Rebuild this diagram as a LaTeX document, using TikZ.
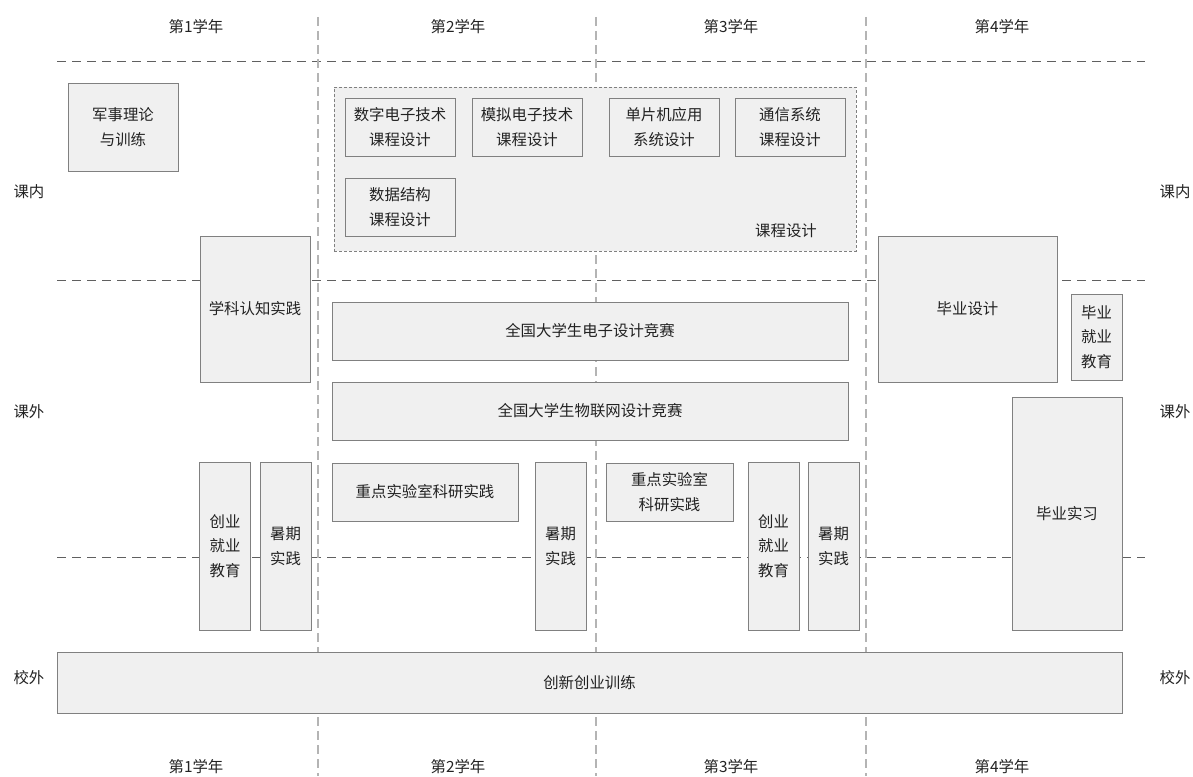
\documentclass[tikz,border=0pt]{standalone}
\usepackage{fontspec}
\setmainfont{Noto Sans CJK SC}
\definecolor{boxfill}{HTML}{F0F0F0}
\definecolor{boxline}{HTML}{808080}
\definecolor{hline}{HTML}{606060}
\definecolor{vline}{HTML}{B4B4B4}
\definecolor{txt}{HTML}{222222}
\tikzset{
  box/.style={draw=boxline, line width=0.9pt, fill=boxfill, inner sep=0pt, align=center, text=txt},
  groupbox/.style={draw=boxline, line width=0.8pt, fill=boxfill, dash pattern=on 3pt off 2pt, inner sep=0pt},
  hdash/.style={draw=hline, line width=0.9pt, dash pattern=on 9pt off 6pt},
  vdash/.style={draw=vline, line width=1.1pt, dash pattern=on 9pt off 5pt},
  lbl/.style={text=txt, inner sep=0pt},
}
\begin{document}
\begin{tikzpicture}[x=1pt, y=-1pt, font=\fontsize{15.4}{24.5}\selectfont]
\useasboundingbox (0,0) rectangle (1193,776);
% guide lines
\draw[hdash] (57,61) -- (1145,61);
\draw[hdash] (57,280) -- (1145,280);
\draw[hdash] (57,557) -- (1145,557);
\draw[vdash] (318,17) -- (318,776);
\draw[vdash] (596,17) -- (596,776);
\draw[vdash] (866,17) -- (866,776);
% year labels
\node[lbl] (t1) at (196,27) {第1学年};
\node[lbl] (t2) at (458,27) {第2学年};
\node[lbl] (t3) at (731,27) {第3学年};
\node[lbl] (t4) at (1002,27) {第4学年};
\node[lbl] (b1) at (196,767) {第1学年};
\node[lbl] (b2) at (458,767) {第2学年};
\node[lbl] (b3) at (731,767) {第3学年};
\node[lbl] (b4) at (1002,767) {第4学年};
% side labels
\node[lbl] (l1) at (29,192) {课内};
\node[lbl] (l2) at (29,412) {课外};
\node[lbl] (l3) at (29,678) {校外};
\node[lbl] (r1) at (1175,192) {课内};
\node[lbl] (r2) at (1175,412) {课外};
\node[lbl] (r3) at (1175,678) {校外};
% course design group
\node[groupbox, minimum width=522pt, minimum height=164pt] (grp) at (595,169) {};
\node[lbl] (grplbl) at (786,231) {课程设计};
\node[box, minimum width=110pt, minimum height=58pt] (szdz) at (400,127) {数字电子技术\\课程设计};
\node[box, minimum width=110pt, minimum height=58pt] (mndz) at (527,127) {模拟电子技术\\课程设计};
\node[box, minimum width=110pt, minimum height=58pt] (dpj) at (664,127) {单片机应用\\系统设计};
\node[box, minimum width=110pt, minimum height=58pt] (txxt) at (790,127) {通信系统\\课程设计};
\node[box, minimum width=110pt, minimum height=58pt] (sjjg) at (400,207) {数据结构\\课程设计};
% year 1
\node[box, minimum width=110pt, minimum height=88pt] (jsll) at (123,127) {军事理论\\与训练};
\node[box, minimum width=110pt, minimum height=146pt] (xkrz) at (255,309) {学科认知实践};
\node[box, minimum width=51pt, minimum height=168pt] (cy1) at (225,546) {创业\\就业\\教育};
\node[box, minimum width=51pt, minimum height=168pt] (sq1) at (285.5,546) {暑期\\实践};
% competitions
\node[box, minimum width=516pt, minimum height=58pt] (dzjs) at (590,331) {全国大学生电子设计竞赛};
\node[box, minimum width=516pt, minimum height=58pt] (wlw) at (590,411) {全国大学生物联网设计竞赛};
% year 2/3
\node[box, minimum width=186pt, minimum height=58pt] (zd2) at (425,492) {重点实验室科研实践};
\node[box, minimum width=51pt, minimum height=168pt] (sq2) at (560.5,546) {暑期\\实践};
\node[box, minimum width=127pt, minimum height=58pt] (zd3) at (669.5,492) {重点实验室\\科研实践};
\node[box, minimum width=51pt, minimum height=168pt] (cy3) at (773.5,546) {创业\\就业\\教育};
\node[box, minimum width=51pt, minimum height=168pt] (sq3) at (833.5,546) {暑期\\实践};
% year 4
\node[box, minimum width=179pt, minimum height=146pt] (bysj) at (967.5,309) {毕业设计};
\node[box, minimum width=51pt, minimum height=86pt] (byjy) at (1096.5,337) {毕业\\就业\\教育};
\node[box, minimum width=110pt, minimum height=233pt] (bysx) at (1067,513.5) {毕业实习};
% off-campus
\node[box, minimum width=1065pt, minimum height=61pt] (cxcy) at (589.5,682.5) {创新创业训练};
\end{tikzpicture}
\end{document}
